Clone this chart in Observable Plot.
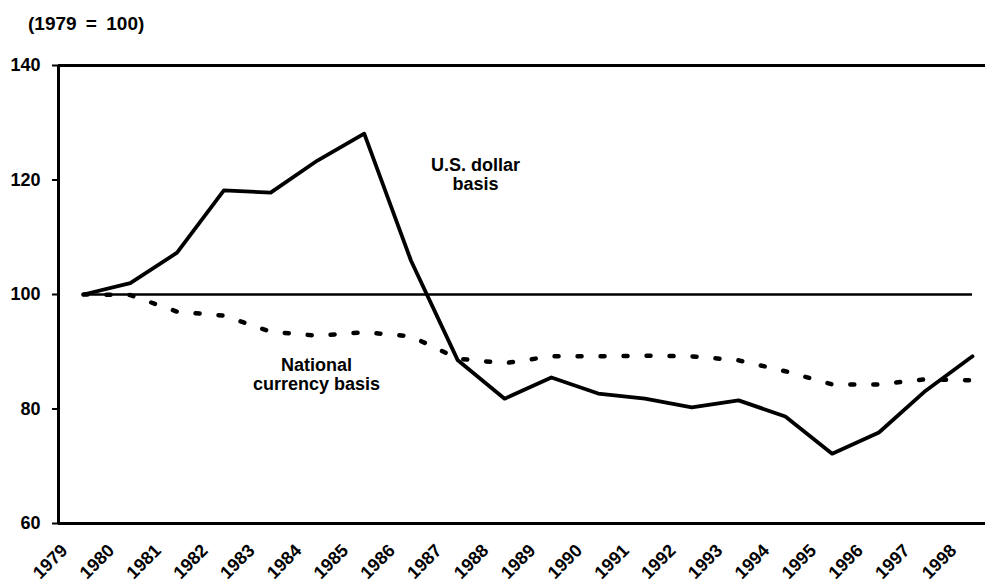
<!DOCTYPE html>
<html><head><meta charset="utf-8">
<script src="https://cdn.jsdelivr.net/npm/d3@7"></script>
<script src="https://cdn.jsdelivr.net/npm/@observablehq/plot@0.6"></script>
<style>
body{margin:0;background:#fff;font-family:"Liberation Sans",Arial,sans-serif;}
#title{position:relative;height:44px;}
#title span{position:absolute;left:28px;top:15px;font-weight:bold;font-size:19px;line-height:18px;color:#000;word-spacing:4px;}
</style></head><body>
<div id="title"><span>(1979 = 100)</span></div>
<div id="chart"></div>
<script>
const years = [1979,1980,1981,1982,1983,1984,1985,1986,1987,1988,1989,1990,1991,1992,1993,1994,1995,1996,1997,1998];
const usDollarBasis = [100,102,107.3,118.2,117.8,123.4,128.1,105.9,88.5,81.8,85.5,82.7,81.8,80.3,81.5,78.7,72.2,75.9,83.2,89.2];
const nationalCurrencyBasis = [100,99.9,97.0,96.3,93.5,92.8,93.4,92.7,88.8,88.0,89.2,89.2,89.3,89.2,88.5,86.6,84.3,84.3,85.2,85.0];
const yTicks = [60,80,100,120,140];
const baseValue = 100;
const annotations = [
  {year: 1987.38, value: 121.0, label: "U.S. dollar\nbasis"},
  {year: 1983.98, value: 86.1, label: "National\ncurrency basis"}
];

const usRows = years.map((y,i)=>({year:y, value:usDollarBasis[i]}));
const ncRows = years.map((y,i)=>({year:y, value:nationalCurrencyBasis[i]}));
const xDomain = [1978.4657, 1998.2778];

const chart = Plot.plot({
  width: 987, height: 541,
  marginLeft: 58, marginRight: 2, marginTop: 21, marginBottom: 62,
  style: {fontFamily: '"Liberation Sans", Arial, sans-serif', fontSize: "18px", fontWeight: "bold", color: "#000", background: "#fff"},
  x: {domain: xDomain, axis: null},
  y: {domain: [yTicks[0], yTicks[yTicks.length-1]], axis: null},
  marks: [
    Plot.ruleY([yTicks[0], yTicks[yTicks.length-1]], {stroke: "#000", strokeWidth: 3}),
    Plot.ruleX([xDomain[0]], {stroke: "#000", strokeWidth: 3}),
    Plot.axisY(yTicks, {tickSize: 6, tickPadding: 12, strokeWidth: 2, label: null, fontSize: 18, fontWeight: "bold"}),
    Plot.axisX(years, {tickRotate: -45, tickSize: 0, tickPadding: 24, dx: -19, label: null, tickFormat: d => String(d), fontSize: 18, fontWeight: "bold"}),
    Plot.ruleY([baseValue], {x1: years[0], x2: years[years.length-1], stroke: "#000", strokeWidth: 2.6}),
    Plot.line(ncRows, {x: "year", y: "value", stroke: "#000", strokeWidth: 4.5, strokeDasharray: "4,19", strokeLinecap: "round"}),
    Plot.line(usRows, {x: "year", y: "value", stroke: "#000", strokeWidth: 3.8, strokeLinejoin: "round", strokeLinecap: "round"}),
    Plot.text(annotations, {x: "year", y: "value", text: "label", fontSize: 18, fontWeight: "bold", lineHeight: 1.05, textAnchor: "middle"})
  ]
});
document.getElementById("chart").appendChild(chart);
</script>
</body></html>
